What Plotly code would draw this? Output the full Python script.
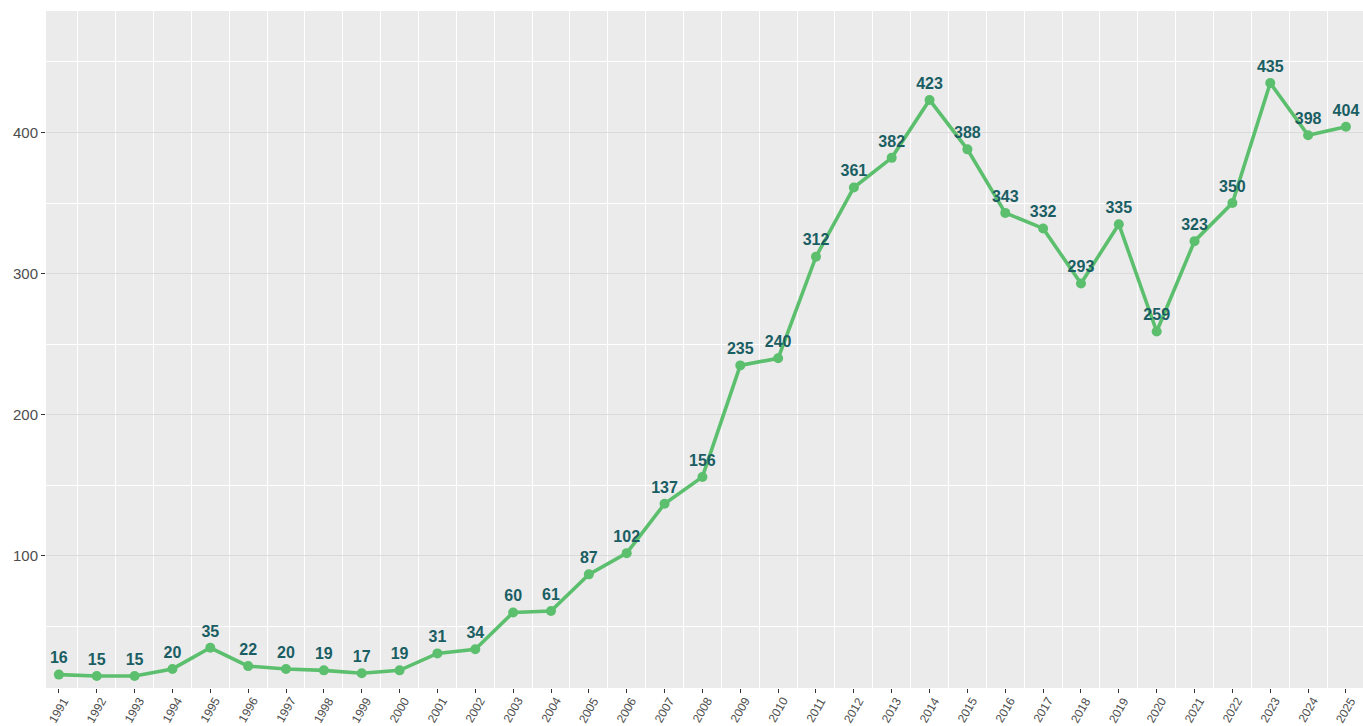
import plotly.graph_objects as go

years = list(range(1991, 2026))
counts = [16, 15, 15, 20, 35, 22, 20, 19, 17, 19, 31, 34, 60, 61, 87, 102, 137, 156,
          235, 240, 312, 361, 382, 423, 388, 343, 332, 293, 335, 259, 323, 350, 435, 398, 404]
y_ticks = [100, 200, 300, 400]

line_color = "#5cbf6e"
label_color = "#1a5e63"
font_family = "Liberation Sans, Arial, sans-serif"

fig = go.Figure()
fig.add_trace(go.Scatter(
    x=years, y=counts,
    mode="lines+markers+text",
    line=dict(color=line_color, width=3.6),
    marker=dict(color=line_color, size=10),
    text=[str(v) for v in counts],
    textposition="top center",
    textfont=dict(family=font_family, size=16, color=label_color, weight="bold"),
    cliponaxis=False,
    showlegend=False,
))

# x tick labels as rotated text centred under each tick (ggplot-like placement)
for yr in years:
    fig.add_annotation(
        x=yr, xref="x", y=0, yref="paper",
        text=str(yr), showarrow=False,
        textangle=-60, xanchor="center", yanchor="middle",
        yshift=-22, borderpad=0,
        font=dict(family=font_family, size=12, color="#4d4d4d"),
    )

fig.update_layout(
    width=1363, height=726,
    margin=dict(l=46, r=0, t=11, b=38),
    paper_bgcolor="white",
    plot_bgcolor="#ebebeb",
    font=dict(family=font_family, size=13, color="#4d4d4d"),
    xaxis=dict(
        range=[1990.66, 2025.45],
        tickvals=years,
        showticklabels=False,
        showgrid=False,
        zeroline=False,
        ticks="outside", ticklen=4, tickcolor="#333333",
        automargin=False,
        minor=dict(tick0=1991.5, dtick=1, showgrid=True, gridcolor="white", gridwidth=1, ticks=""),
    ),
    yaxis=dict(
        range=[6.5, 486],
        tickvals=y_ticks,
        showgrid=True, gridcolor="#dadada", gridwidth=1,
        zeroline=False,
        ticks="outside", ticklen=4, tickcolor="#333333",
        tickfont=dict(size=15, color="#4d4d4d"),
        automargin=False,
        minor=dict(tick0=0, dtick=50, showgrid=True, gridcolor="white", gridwidth=1, ticks=""),
    ),
)

fig.write_html(
    "out.html",
    config={"displayModeBar": False},
    post_script="document.body.style.margin='0px';document.body.style.overflow='hidden';",
)
